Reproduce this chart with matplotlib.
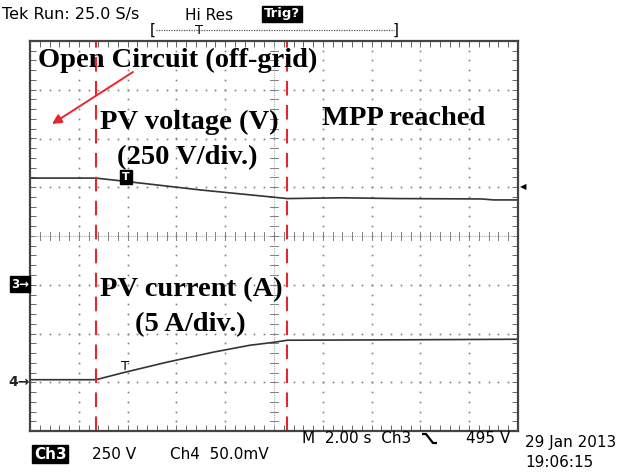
import numpy as np
import matplotlib.pyplot as plt

# scope setup: 10 div x 8 div, 2 s/div
sec_per_div = 2.0
ch3_scale, ch3_pos = 250.0, -1.0   # V/div, ground position (div)
ch4_scale, ch4_pos = 5.0, -3.0     # A/div, ground position (div)

# PV voltage trace (Ch3)
t_volt = [0, 2.7, 4.0, 7.0, 10.55, 12.8, 15.0, 18.5, 19.0, 20.0]
pv_volt = [547, 547, 529, 486, 442, 446, 442, 440, 435, 435]

# PV current trace (Ch4)
t_curr = [0, 2.7, 3.9, 5.6, 7.5, 9.0, 10.0, 10.55, 15.0, 20.0]
pv_curr = [0.26, 0.26, 1.03, 2.05, 3.08, 3.79, 4.1, 4.31, 4.35, 4.41]

# event markers (s)
t_events = [2.7, 10.53]

W, H = 620, 473
fig = plt.figure(figsize=(W / 100, H / 100), dpi=100)
fig.patch.set_facecolor('white')

L, R, T, B = 30, 518, 41, 431
ax = fig.add_axes([L / W, (H - B) / H, (R - L) / W, (B - T) / H])
ax.set_xlim(0, 10)
ax.set_ylim(-4, 4)

grid_col = '#808080'
# dotted graticule lines
fine = np.arange(0, 10.001, 0.2)
fine_y = np.arange(-4, 4.001, 0.2)
for xv in [1, 2, 3, 4, 6, 7, 8, 9]:
    ax.plot(np.full_like(fine_y, xv), fine_y, ls='none', marker='s',
            ms=1.2, color=grid_col, mew=0)
for yv in [-3, -2, -1, 1, 2, 3]:
    ax.plot(fine, np.full_like(fine, yv), ls='none', marker='s',
            ms=1.2, color=grid_col, mew=0)
# centre cross with ticks
ax.axhline(0, color='#b0b0b0', lw=0.8, ls=(0, (1, 1)))
ax.axvline(5, color='#b0b0b0', lw=0.8, ls=(0, (1, 1)))
for xv in fine:
    ax.plot([xv, xv], [-0.08, 0.08], color=grid_col, lw=0.7)
for yv in fine_y:
    ax.plot([4.92, 5.08], [yv, yv], color=grid_col, lw=0.7)

for s in ax.spines.values():
    s.set_color('#444444')
    s.set_linewidth(1.6)
ax.set_xticks(fine)
ax.set_yticks(fine_y)
ax.tick_params(direction='in', length=4, width=0.7, colors='#666666',
               top=True, right=True, labelbottom=False, labelleft=False)

# traces
tv = np.array(t_volt) / sec_per_div
yv = ch3_pos + np.array(pv_volt) / ch3_scale
ax.plot(tv, yv, color='#333333', lw=1.2)
tc = np.array(t_curr) / sec_per_div
yc = ch4_pos + np.array(pv_curr) / ch4_scale
ax.plot(tc, yc, color='#333333', lw=1.2)

# red dashed event lines
for te in t_events:
    ax.axvline(te / sec_per_div, color='#e8262a', lw=1.5, ls=(0, (7, 4.5)))

# overlay in pixel coordinates for annotations
ov = fig.add_axes([0, 0, 1, 1], facecolor='none')
ov.set_xlim(0, W)
ov.set_ylim(H, 0)
ov.axis('off')

serif = dict(family='Liberation Serif', weight='bold', fontsize=20.5,
             color='black')
ov.text(38, 67, 'Open Circuit (off-grid)', va='baseline', **serif)
ov.text(100, 129, 'PV voltage (V)', va='baseline', **serif)
ov.text(187, 164, '(250 V/div.)', va='baseline', ha='center', **serif)
ov.text(322, 125, 'MPP reached', va='baseline', **serif)
ov.text(100, 296, 'PV current (A)', va='baseline', **serif)
ov.text(190, 331, '(5 A/div.)', va='baseline', ha='center', **serif)

ov.annotate('', xy=(52, 124), xytext=(133, 72),
            arrowprops=dict(arrowstyle='-|>', color='#e8262a', lw=1.4,
                            mutation_scale=14, shrinkA=0, shrinkB=0))

# trigger markers on traces
ov.text(126, 177, 'T', ha='center', va='center', fontsize=8,
        family='DejaVu Sans', weight='bold', color='white',
        bbox=dict(boxstyle='square,pad=0.2', fc='black', ec='black'))
ov.text(125, 366, 'T', ha='center', va='center', fontsize=9.5,
        family='DejaVu Sans', color='black')

# channel ground markers
sans = dict(family=['Liberation Sans Narrow', 'DejaVu Sans'], color='black')
ov.text(20, 284, '3\u2192', ha='center', va='center', fontsize=8.5,
        color='white', family='DejaVu Sans', weight='bold',
        bbox=dict(boxstyle='square,pad=0.1', fc='black', ec='black'))
ov.text(19, 382, '4\u2192', ha='center', va='center', fontsize=10,
        family='DejaVu Sans', weight='bold', color='#222222')
ov.text(523, 187, '\u25c0', ha='center', va='center', fontsize=6,
        family='DejaVu Sans', color='black')

# top status line
ov.text(2, 15, 'Tek Run: 25.0 S/s', va='center', fontsize=11.5,
        family='DejaVu Sans', color='black')
ov.text(185, 15, 'Hi Res', va='center', fontsize=11,
        family='DejaVu Sans', color='black')
ov.text(264, 14, 'Trig?', va='center', fontsize=9.5, family='DejaVu Sans',
        weight='bold', color='white',
        bbox=dict(boxstyle='square,pad=0.15', fc='black', ec='black'))
ov.plot([156, 394], [30, 30], color='#555555', lw=0.9, ls=(0, (1, 1)))
ov.text(153, 30, '[', ha='center', va='center', fontsize=11,
        family='DejaVu Sans', color='black')
ov.text(396, 30, ']', ha='center', va='center', fontsize=11,
        family='DejaVu Sans', color='black')
ov.text(199, 30, 'T', ha='center', va='center', fontsize=9.5,
        family='DejaVu Sans', color='black')

# bottom status lines
ov.text(302, 438, 'M  2.00 s  Ch3', va='center', fontsize=11, **sans)
# falling-edge trigger symbol (no installed font has it)
ov.plot([422, 426, 433, 437], [434, 434, 443, 443], color='black', lw=1.6,
        solid_capstyle='butt')
ov.text(510, 438, '495 V', va='center', ha='right', fontsize=11, **sans)
ov.text(525, 442, '29 Jan 2013', va='center', fontsize=11, **sans)
ov.text(525, 462, '19:06:15', va='center', fontsize=11, **sans)
ov.text(34, 454, 'Ch3', va='center', fontsize=11, weight='bold',
        family=['Liberation Sans Narrow', 'DejaVu Sans'], color='white',
        bbox=dict(boxstyle='square,pad=0.1', fc='black', ec='black'))
ov.text(92, 454, '250 V', va='center', fontsize=11, **sans)
ov.text(170, 454, 'Ch4  50.0mV', va='center', fontsize=11, **sans)

fig.savefig('out.png', dpi=100, facecolor='white')
